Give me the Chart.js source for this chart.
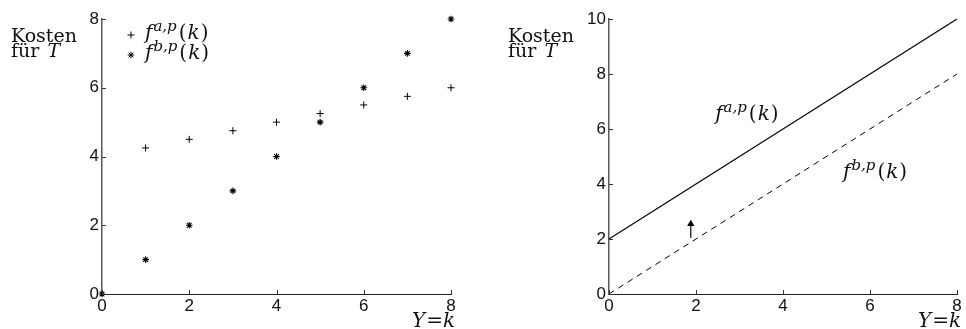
<!DOCTYPE html>
<html>
<head>
<meta charset="utf-8">
<script src="https://cdn.jsdelivr.net/npm/chart.js@4/dist/chart.umd.min.js"></script>
<style>
  html, body { margin: 0; padding: 0; background: #fff; }
  #wrap { position: relative; width: 966px; height: 329px; overflow: hidden; }
  .panel { position: absolute; top: 0; width: 483px; height: 329px; }
  canvas { display: block; }
</style>
</head>
<body>
<div id="wrap">
  <div class="panel" style="left:0"><canvas id="costPoints" width="483" height="329"></canvas></div>
  <div class="panel" style="left:483px"><canvas id="costLines" width="483" height="329"></canvas></div>
</div>
<script>
// ---- discrete costs per order count k (left panel) ----
const kA = [1, 2, 3, 4, 5, 6, 7, 8];
const costA = [4.25, 4.5, 4.75, 5, 5.25, 5.5, 5.75, 6];
const kB = [0, 1, 2, 3, 4, 5, 6, 7, 8];
const costB = [0, 1, 2, 3, 4, 5, 6, 7, 8];

// ---- continuous cost functions (right panel) ----
const lineK = [0, 8];
const lineA = [2, 10];
const lineB = [0, 8];
// arrow showing the upward shift from f^{b,p} to f^{a,p}
const arrowK = [1.88, 1.88];
const arrowCost = [2.05, 2.55];

// ---- tick labels ----
const xTicks = [0, 2, 4, 6, 8];
const yTicksLeft = [0, 2, 4, 6, 8];
const yTicksRight = [0, 2, 4, 6, 8, 10];

const SERIF = '"DejaVu Serif", "Liberation Serif", serif';
const SANS = '"Liberation Sans", Arial, sans-serif';

const toXY = (xs, ys) => xs.map((x, i) => ({ x, y: ys[i] }));

// draws a run of text pieces (italic / superscript) left to right
function drawRich(ctx, x, y, parts, size) {
  let cx = x;
  for (const p of parts) {
    const s = p.sup ? Math.round(size * 0.74) : size;
    ctx.font = (p.it ? 'italic ' : '') + s + 'px ' + SERIF;
    const dy = p.sup ? -size * 0.42 : 0;
    cx += p.pre || 0;
    ctx.fillText(p.t, cx, y + dy);
    cx += ctx.measureText(p.t).width + (p.post || 0);
  }
}

const fLabel = (sup) => [
  { t: 'f', it: true, post: 1 },
  { t: sup, it: true, sup: true, post: 2 },
  { t: '(' },
  { t: 'k', it: true, pre: 1, post: 1 },
  { t: ')' }
];

// axis titles, inward tick marks, legend and curve labels
const decor = {
  id: 'decor',
  afterDraw(chart, args, opts) {
    const { ctx, chartArea: ca, scales } = chart;
    ctx.save();
    // inward tick marks
    ctx.lineWidth = 1;
    ctx.strokeStyle = '#333';
    ctx.beginPath();
    for (const t of scales.x.ticks) {
      const px = Math.round(scales.x.getPixelForValue(t.value)) + 0.5;
      ctx.moveTo(px, ca.bottom);
      ctx.lineTo(px, ca.bottom - 4);
    }
    for (const t of scales.y.ticks) {
      const py = Math.round(scales.y.getPixelForValue(t.value)) + 0.5;
      ctx.moveTo(ca.left, py);
      ctx.lineTo(ca.left + 4, py);
    }
    ctx.stroke();

    ctx.fillStyle = '#111';
    ctx.textBaseline = 'alphabetic';
    ctx.textAlign = 'left';
    // y-axis title
    drawRich(ctx, opts.titleX, 42, [{ t: 'Kosten' }], 19);
    drawRich(ctx, opts.titleX, 57, [{ t: 'für ', post: 2 }, { t: 'T', it: true }], 19);
    // x-axis title
    drawRich(ctx, ca.right - 39, 327, [{ t: 'Y', it: true, post: 1 }, { t: '=' }, { t: 'k', it: true }], 20);

    // legend built from the dataset point styles
    if (opts.legend) {
      const items = [['a,p', 0], ['b,p', 1]];
      items.forEach(([sup, di], i) => {
        const ds = chart.data.datasets[di];
        const mx = ca.left + 29, my = ca.top + 16 + i * 20;
        ctx.strokeStyle = '#000';
        ctx.fillStyle = '#000';
        Chart.helpers.drawPoint(ctx, {
          pointStyle: ds.pointStyle, radius: ds.pointRadius, rotation: 0,
          borderWidth: ds.borderWidth
        }, mx, my);
        ctx.fillStyle = '#111';
        drawRich(ctx, mx + 14, my + 4, fLabel(sup), 20);
      });
    }
    // labels placed in data coordinates
    for (const l of opts.labels || []) {
      drawRich(ctx, scales.x.getPixelForValue(l.x), scales.y.getPixelForValue(l.y), fLabel(l.sup), 20);
    }
    ctx.restore();
  }
};

function axes(yTicks, yMax, yWidth, xHeight) {
  const tickFont = { family: SANS, size: 17 };
  return {
    x: {
      type: 'linear', min: 0, max: 8,
      afterBuildTicks: s => { s.ticks = xTicks.map(v => ({ value: v })); },
      afterFit: s => { s.height = xHeight; },
      ticks: { color: '#111', font: tickFont, padding: 2, maxRotation: 0 },
      grid: { display: true, drawOnChartArea: false, drawTicks: false },
      border: { display: true, color: '#222', width: 1 }
    },
    y: {
      type: 'linear', min: 0, max: yMax,
      afterBuildTicks: s => { s.ticks = yTicks.map(v => ({ value: v })); },
      afterFit: s => { s.width = yWidth; },
      ticks: { color: '#111', font: tickFont, padding: 3 },
      grid: { display: true, drawOnChartArea: false, drawTicks: false },
      border: { display: true, color: '#5a5a5a', width: 1.5 }
    }
  };
}

const common = {
  responsive: false,
  animation: false,
  events: [],
  plugins: { legend: { display: false }, tooltip: { enabled: false } }
};

new Chart(document.getElementById('costPoints'), {
  type: 'scatter',
  data: {
    datasets: [
      {
        label: 'f^{a,p}(k)', data: toXY(kA, costA),
        pointStyle: 'cross', pointRadius: 3.5, borderWidth: 1,
        borderColor: '#000', backgroundColor: '#000', clip: false
      },
      {
        label: 'f^{b,p}(k)', data: toXY(kB, costB),
        pointStyle: 'star', pointRadius: 3.3, borderWidth: 1.1,
        borderColor: '#000', backgroundColor: '#000', clip: false
      }
    ]
  },
  options: {
    ...common,
    layout: { padding: { left: 0, top: 19, right: 32, bottom: 0 } },
    scales: axes(yTicksLeft, 8, 102, 35),
    plugins: { ...common.plugins, decor: { titleX: 11, legend: true } }
  },
  plugins: [decor]
});

new Chart(document.getElementById('costLines'), {
  type: 'scatter',
  data: {
    datasets: [
      {
        label: 'f^{a,p}(k)', data: toXY(lineK, lineA), showLine: true,
        pointRadius: 0, borderWidth: 1.2, borderColor: '#000', clip: false
      },
      {
        label: 'f^{b,p}(k)', data: toXY(lineK, lineB), showLine: true,
        pointRadius: 0, borderWidth: 1, borderColor: '#000', borderDash: [6, 5], clip: false
      },
      {
        label: 'shift', data: toXY(arrowK, arrowCost), showLine: true,
        pointRadius: [0, 3], pointStyle: 'triangle', borderWidth: 1.2,
        borderColor: '#000', backgroundColor: '#000', clip: false
      }
    ]
  },
  options: {
    ...common,
    layout: { padding: { left: 0, top: 19, right: 9, bottom: 0 } },
    scales: axes(yTicksRight, 10, 126, 35),
    plugins: {
      ...common.plugins,
      decor: {
        titleX: 25, legend: false,
        labels: [
          { sup: 'a,p', x: 2.44, y: 6.33 },
          { sup: 'b,p', x: 5.38, y: 4.22 }
        ]
      }
    }
  },
  plugins: [decor]
});
</script>
</body>
</html>
